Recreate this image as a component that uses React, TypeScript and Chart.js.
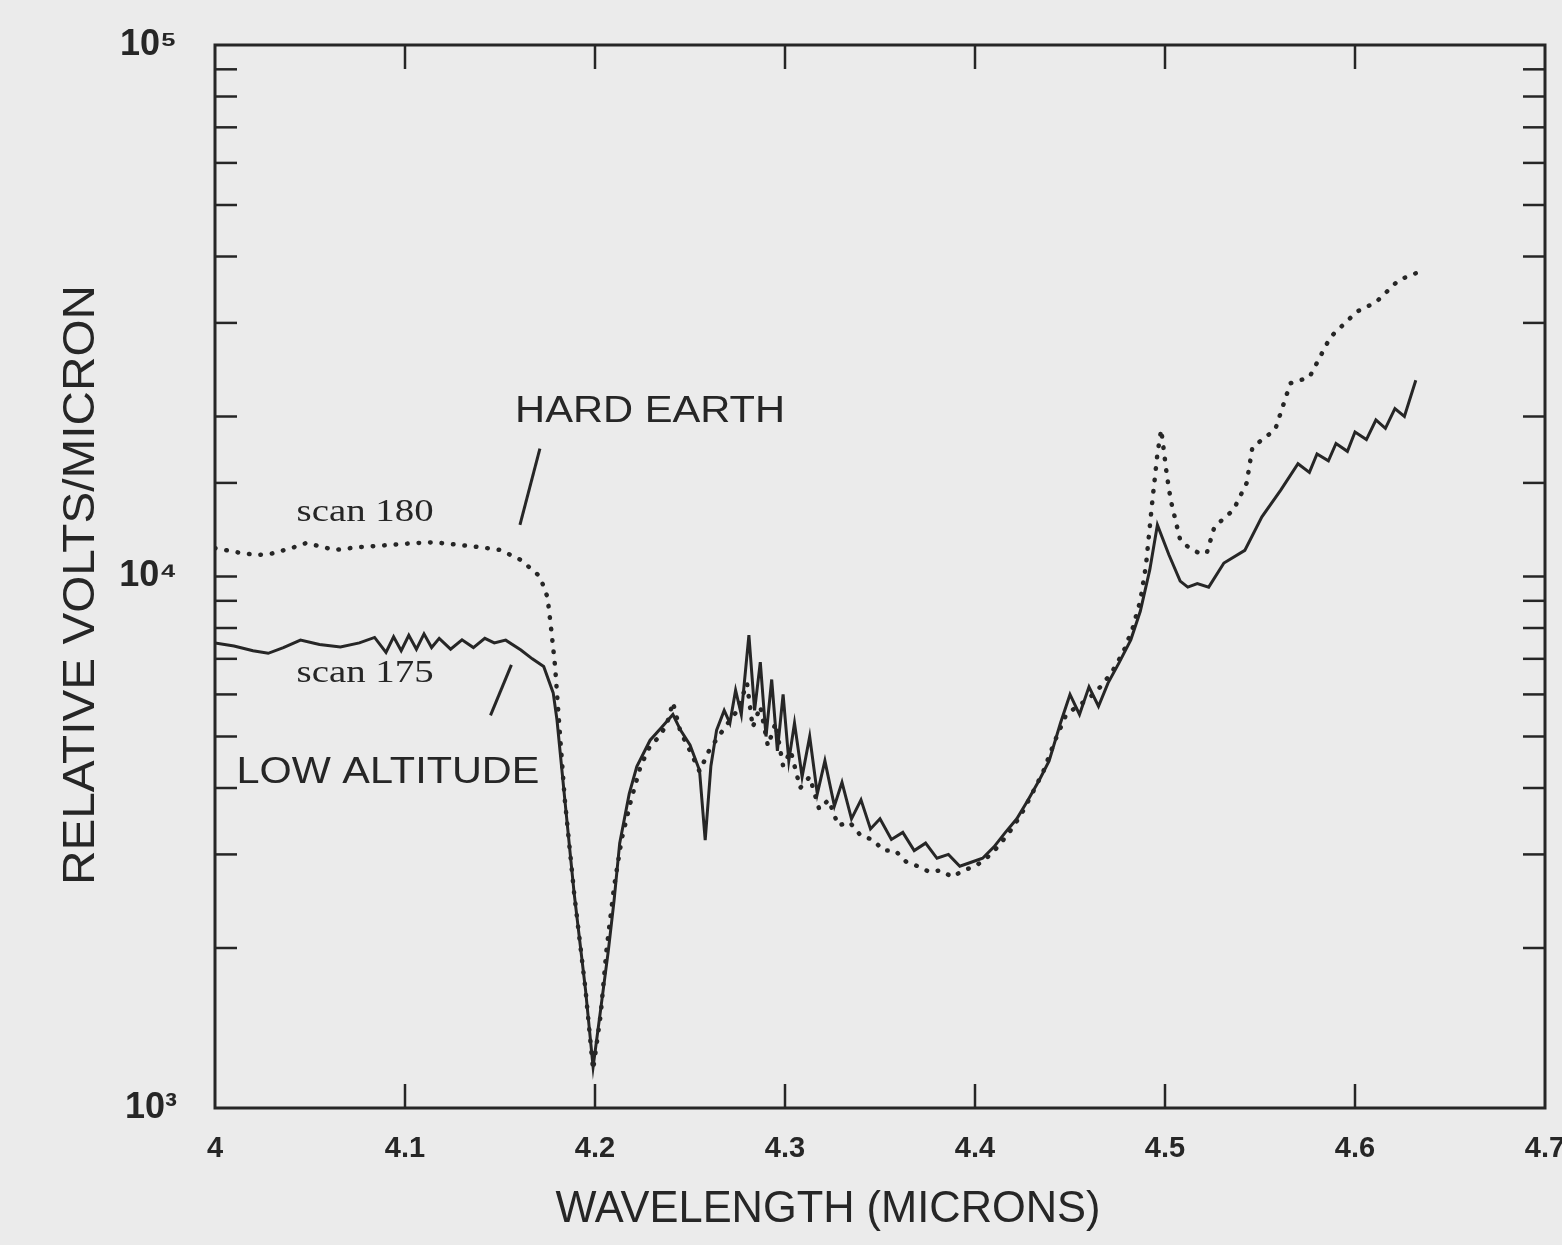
import React, { useEffect, useRef } from 'react';
import { Chart, registerables } from 'chart.js';

Chart.register(...registerables);

// ---- Data ----
const X_TICKS = [4, 4.1, 4.2, 4.3, 4.4, 4.5, 4.6, 4.7];
const X_TICK_LABELS = ['4', '4.1', '4.2', '4.3', '4.4', '4.5', '4.6', '4.7'];
const Y_DECADES = [1000, 10000, 100000];
const Y_DECADE_LABELS = ['10\u00B3', '10\u2074', '10\u2075'];
const X_TITLE = 'WAVELENGTH (MICRONS)';
const Y_TITLE = 'RELATIVE VOLTS/MICRON';

// LOW ALTITUDE (scan 175) — solid line
const LOW_WL = [
  4.000, 4.010, 4.020, 4.028, 4.036, 4.045, 4.055, 4.066, 4.076, 4.084,
  4.090, 4.094, 4.098, 4.102, 4.106, 4.110, 4.114, 4.118, 4.124, 4.130,
  4.136, 4.142, 4.147, 4.153, 4.161, 4.167, 4.173, 4.178, 4.180, 4.184,
  4.189, 4.195, 4.199, 4.203, 4.207, 4.210, 4.213, 4.218, 4.222, 4.229,
  4.235, 4.241, 4.245, 4.250, 4.255, 4.258, 4.261, 4.264, 4.268, 4.271,
  4.274, 4.277, 4.281, 4.284, 4.287, 4.290, 4.293, 4.296, 4.299, 4.302,
  4.305, 4.309, 4.313, 4.317, 4.321, 4.326, 4.330, 4.335, 4.340, 4.345,
  4.350, 4.356, 4.362, 4.368, 4.374, 4.380, 4.386, 4.392, 4.398, 4.404,
  4.410, 4.416, 4.422, 4.428, 4.434, 4.439, 4.445, 4.450, 4.455, 4.460,
  4.465, 4.470, 4.476, 4.482, 4.487, 4.492, 4.496, 4.502, 4.508, 4.512,
  4.517, 4.523, 4.531, 4.542, 4.551, 4.561, 4.570, 4.576, 4.580, 4.586,
  4.590, 4.596, 4.600, 4.606, 4.611, 4.616, 4.621, 4.626, 4.632,
];
const LOW_VAL = [
  7500, 7400, 7250, 7170, 7350, 7590, 7450, 7370, 7500, 7680,
  7200, 7700, 7250, 7750, 7300, 7800, 7350, 7650, 7300, 7600,
  7350, 7650, 7500, 7590, 7270, 7000, 6770, 6040, 5370, 3840,
  2540, 1670, 1195, 1535, 1975, 2450, 3150, 3900, 4390, 4920,
  5200, 5500, 5140, 4820, 4320, 3190, 4400, 5140, 5600, 5300,
  6110, 5500, 7760, 5600, 6900, 5000, 6400, 4700, 6000, 4500,
  5300, 4200, 5000, 3900, 4500, 3700, 4100, 3500, 3800, 3350,
  3500, 3200, 3300, 3050, 3150, 2950, 3000, 2850, 2900, 2950,
  3100, 3300, 3500, 3800, 4150, 4500, 5300, 6000, 5500, 6200,
  5700, 6300, 6900, 7600, 8600, 10300, 12500, 11000, 9800, 9550,
  9700, 9550, 10600, 11200, 12950, 14550, 16300, 15700, 17000, 16500,
  17800, 17200, 18700, 18100, 19700, 19000, 20700, 20000, 23400,
];

// HARD EARTH (scan 180) — dotted line
const HARD_WL = [
  4.000, 4.012, 4.022, 4.030, 4.040, 4.048, 4.055, 4.063, 4.075, 4.090,
  4.104, 4.115, 4.125, 4.140, 4.150, 4.161, 4.171, 4.175, 4.177, 4.179,
  4.181, 4.184, 4.189, 4.195, 4.199, 4.203, 4.206, 4.210, 4.214, 4.219,
  4.224, 4.229, 4.234, 4.238, 4.241, 4.245, 4.250, 4.255, 4.260, 4.265,
  4.270, 4.275, 4.280, 4.283, 4.287, 4.291, 4.295, 4.299, 4.303, 4.308,
  4.313, 4.318, 4.323, 4.328, 4.334, 4.340, 4.346, 4.352, 4.358, 4.364,
  4.370, 4.376, 4.382, 4.388, 4.394, 4.400, 4.406, 4.412, 4.418, 4.424,
  4.430, 4.436, 4.442, 4.448, 4.454, 4.460, 4.466, 4.472, 4.478, 4.483,
  4.487, 4.490, 4.493, 4.496, 4.498, 4.501, 4.503, 4.508, 4.513, 4.518,
  4.522, 4.526, 4.536, 4.543, 4.546, 4.558, 4.566, 4.576, 4.587, 4.601,
  4.611, 4.623, 4.632,
];
const HARD_VAL = [
  11310, 11100, 10970, 11050, 11300, 11560, 11400, 11220, 11350, 11450,
  11550, 11600, 11500, 11350, 11220, 10740, 10000, 9140, 7930, 6770,
  5370, 3840, 2540, 1670, 1180, 1500, 1975, 2600, 3200, 3800,
  4400, 4800, 5000, 5300, 5800, 5100, 4700, 4300, 4700, 5000,
  5300, 5600, 6300, 5200, 5700, 4800, 5300, 4400, 4700, 4000,
  4200, 3650, 3800, 3400, 3450, 3250, 3200, 3050, 3050, 2900,
  2850, 2780, 2800, 2720, 2800, 2850, 2950, 3100, 3300, 3550,
  3900, 4300, 4900, 5500, 5700, 5900, 6200, 6600, 7200, 8000,
  9000, 10500, 13500, 17000, 18900, 15500, 13930, 11710, 11300, 11070,
  11070, 12400, 13340, 15000, 17500, 18900, 23100, 23700, 28200, 31500,
  32800, 36100, 37200,
];

// Annotation texts (data-space anchors)
const NOTE_TEXTS = ['HARD EARTH', 'scan 180', 'scan 175', 'LOW ALTITUDE'];
const NOTE_WL = [4.229, 4.079, 4.079, 4.091];
const NOTE_VAL = [20400, 13170, 6580, 4270];
const POINTER_FROM_WL = [4.171, 4.156];
const POINTER_FROM_VAL = [17400, 6820];
const POINTER_TO_WL = [4.1605, 4.145];
const POINTER_TO_VAL = [12500, 5480];

const INK = '#262626';
const BG = '#ebebeb';

function drawStretched(
  ctx: CanvasRenderingContext2D,
  text: string,
  cx: number,
  cy: number,
  font: string,
  targetWidth: number,
  rotate = 0
) {
  ctx.save();
  ctx.font = font;
  const w = ctx.measureText(text).width;
  ctx.translate(cx, cy);
  if (rotate) ctx.rotate(rotate);
  ctx.scale(targetWidth / w, 1);
  ctx.textAlign = 'center';
  ctx.textBaseline = 'middle';
  ctx.fillText(text, 0, 0);
  ctx.restore();
}

const framePlugin = {
  id: 'framePlugin',
  afterDatasetsDraw(chart: any) {
    const { ctx, chartArea, scales } = chart;
    const { left, right, top, bottom } = chartArea;
    const x = scales.x;
    const y = scales.y;
    ctx.save();
    ctx.strokeStyle = INK;
    ctx.fillStyle = INK;
    ctx.lineCap = 'butt';
    ctx.lineWidth = 3;
    ctx.strokeRect(left, top, right - left, bottom - top);
    ctx.lineWidth = 2.5;
    const seg = (x1: number, y1: number, x2: number, y2: number) => {
      ctx.beginPath();
      ctx.moveTo(x1, y1);
      ctx.lineTo(x2, y2);
      ctx.stroke();
    };
    for (const v of X_TICKS) {
      const px = x.getPixelForValue(v);
      if (px <= left + 2 || px >= right - 2) continue;
      seg(px, bottom, px, bottom - 24);
      seg(px, top, px, top + 24);
    }
    for (const t of y.ticks) {
      const py = y.getPixelForValue(t.value);
      if (py <= top + 2 || py >= bottom - 2) continue;
      seg(left, py, left + 22, py);
      seg(right, py, right - 22, py);
    }
    // axis titles
    drawStretched(ctx, X_TITLE, 828, 1210, '44px "Liberation Sans"', 545);
    drawStretched(ctx, Y_TITLE, 82, 585, '44px "Liberation Sans"', 600, -Math.PI / 2);
    // annotations
    const widths = [270, 137, 137, 303];
    NOTE_TEXTS.forEach((txt, i) => {
      const isScan = txt.startsWith('scan');
      const font = isScan ? '32px "Liberation Serif"' : '36px "Liberation Sans"';
      drawStretched(
        ctx, txt,
        x.getPixelForValue(NOTE_WL[i]), y.getPixelForValue(NOTE_VAL[i]),
        font, widths[i]
      );
    });
    ctx.lineWidth = 3;
    POINTER_FROM_WL.forEach((w, i) => {
      seg(
        x.getPixelForValue(w), y.getPixelForValue(POINTER_FROM_VAL[i]),
        x.getPixelForValue(POINTER_TO_WL[i]), y.getPixelForValue(POINTER_TO_VAL[i])
      );
    });
    ctx.restore();
  },
};

export default function App() {
  const canvasRef = useRef<HTMLCanvasElement | null>(null);

  useEffect(() => {
    const canvas = canvasRef.current;
    if (!canvas) return;
    const lowData = LOW_WL.map((w, i) => ({ x: w, y: LOW_VAL[i] }));
    const hardData = HARD_WL.map((w, i) => ({ x: w, y: HARD_VAL[i] }));
    const chart = new Chart(canvas, {
      type: 'line',
      data: {
        datasets: [
          {
            label: 'LOW ALTITUDE (scan 175)',
            data: lowData,
            borderColor: INK,
            borderWidth: 3,
            pointRadius: 0,
            tension: 0,
            fill: false,
          },
          {
            label: 'HARD EARTH (scan 180)',
            data: hardData,
            borderColor: INK,
            borderWidth: 4.5,
            borderDash: [0.5, 11],
            borderCapStyle: 'round',
            pointRadius: 0,
            tension: 0,
            fill: false,
          },
        ],
      },
      options: {
        responsive: false,
        animation: false,
        devicePixelRatio: 1,
        layout: { padding: { left: 0, right: 45, top: 45, bottom: 0 } },
        plugins: { legend: { display: false }, tooltip: { enabled: false } },
        scales: {
          x: {
            type: 'linear',
            min: 4,
            max: 4.7,
            grid: { display: false },
            border: { display: false },
            afterBuildTicks: (scale: any) => {
              scale.ticks = X_TICKS.map((v) => ({ value: v }));
            },
            afterFit: (scale: any) => {
              scale.height = 137;
            },
            ticks: {
              autoSkip: false,
              maxRotation: 0,
              padding: 16,
              color: INK,
              font: { family: '"Liberation Sans"', size: 29, weight: 'bold' },
              callback: (v: any) => {
                const i = X_TICKS.findIndex((t) => Math.abs(t - Number(v)) < 1e-6);
                return i >= 0 ? X_TICK_LABELS[i] : '';
              },
            },
            title: { display: false },
          },
          y: {
            type: 'logarithmic',
            min: 1000,
            max: 100000,
            grid: { display: false },
            border: { display: false },
            afterFit: (scale: any) => {
              scale.width = 215;
              scale.paddingTop = 0;
              scale.paddingBottom = 0;
            },
            ticks: {
              autoSkip: false,
              padding: 30,
              color: INK,
              font: { family: '"Liberation Sans"', size: 36, weight: 'bold' },
              callback: (v: any) => {
                const i = Y_DECADES.findIndex((d) => Math.abs(d - Number(v)) < 1e-3);
                return i >= 0 ? Y_DECADE_LABELS[i] : '';
              },
            },
            title: { display: false },
          },
        },
      },
      plugins: [framePlugin],
    } as any);
    return () => chart.destroy();
  }, []);

  return (
    <div
      style={{
        position: 'fixed',
        left: 0,
        top: 0,
        width: 1562,
        height: 1245,
        overflow: 'hidden',
        background: BG,
      }}
    >
      <canvas ref={canvasRef} width={1590} height={1245} style={{ display: 'block' }} />
    </div>
  );
}
